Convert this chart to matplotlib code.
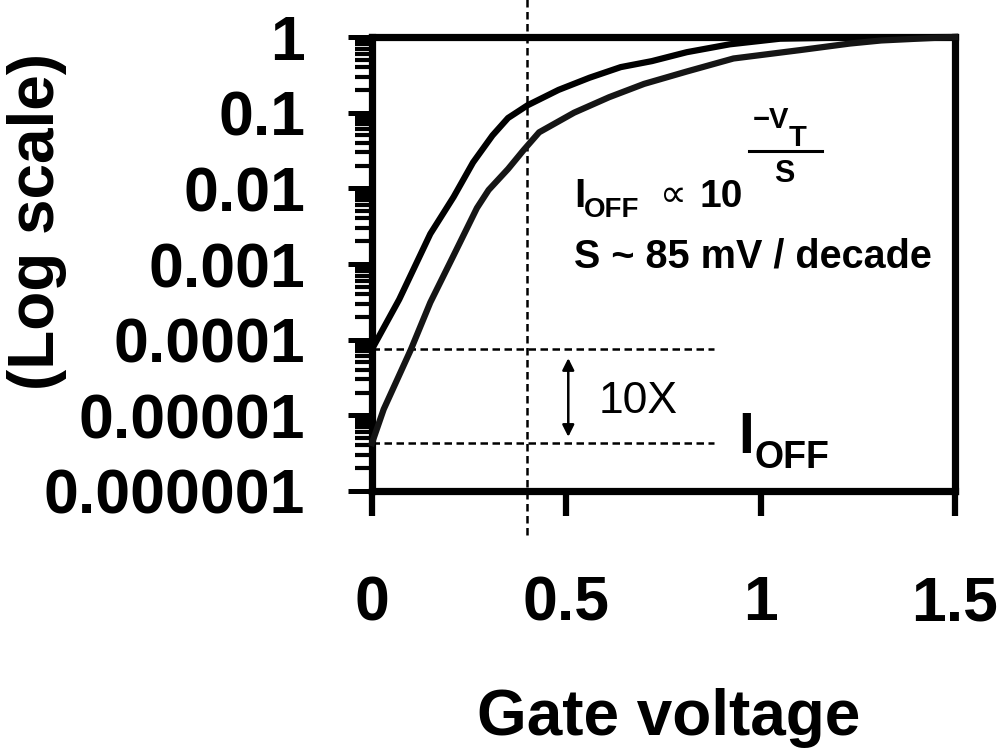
import matplotlib
matplotlib.use("Agg")
import matplotlib.pyplot as plt
from matplotlib.ticker import FixedLocator, LogLocator, NullFormatter

# ---------------- data ----------------
v_upper = [0.0, 0.07, 0.15, 0.21, 0.26, 0.31, 0.35, 0.40, 0.48, 0.56, 0.64, 0.72, 0.81, 0.92, 1.05, 1.2, 1.5]
i_upper = [7.5e-5, 3.4e-4, 2.5e-3, 7.7e-3, 0.022, 0.05, 0.085, 0.125, 0.2, 0.29, 0.40, 0.48, 0.63, 0.8, 0.95, 0.98, 1.0]

v_lower = [0.0, 0.03, 0.10, 0.15, 0.21, 0.27, 0.30, 0.35, 0.39, 0.43, 0.52, 0.61, 0.70, 0.81, 0.93, 1.10, 1.23, 1.31, 1.44, 1.5]
i_lower = [4.3e-6, 1.2e-5, 7.4e-5, 3.1e-4, 1.3e-3, 5.5e-3, 9.5e-3, 0.018, 0.032, 0.055, 0.10, 0.16, 0.24, 0.35, 0.52, 0.67, 0.82, 0.9, 0.97, 1.0]

ioff_high = 7.5e-5
ioff_low = 4.3e-6
v_threshold = 0.4
hline_end = 0.88
arrow_v = 0.505
arrow_top = 5.7e-5
arrow_bottom = 5.2e-6

x_ticks = [0, 0.5, 1, 1.5]
x_tick_labels = ["0", "0.5", "1", "1.5"]
y_ticks = [1e-6, 1e-5, 1e-4, 1e-3, 1e-2, 1e-1, 1]
y_tick_labels = ["0.000001", "0.00001", "0.0001", "0.001", "0.01", "0.1", "1"]

# ---------------- figure ----------------
plt.rcParams['font.family'] = ['Liberation Sans', 'DejaVu Sans']
fig = plt.figure(figsize=(10, 7.48), dpi=100)
W, H = 1000, 748
ax = fig.add_axes([372 / W, 1 - 491 / H, (955 - 372) / W, (491 - 37) / H])

ax.set_yscale('log')
ax.set_xlim(0, 1.5)
ax.set_ylim(1e-6, 1)

ax.plot(v_upper, i_upper, color='black', lw=4.5, clip_on=False, zorder=5)
ax.plot(v_lower, i_lower, color='#151515', lw=4.5, clip_on=False, zorder=5)

dash = (3.0, 1.8)
ax.plot([0, hline_end], [ioff_high, ioff_high], color='black', lw=1.8, dashes=dash, zorder=3)
ax.plot([0, hline_end], [ioff_low, ioff_low], color='black', lw=1.8, dashes=dash, zorder=3)
ax.axvline(v_threshold, ymin=-0.097, ymax=1.085, color='black', lw=1.8, dashes=dash,
           clip_on=False, zorder=3)

ax.annotate('', xy=(arrow_v, arrow_bottom), xytext=(arrow_v, arrow_top),
            arrowprops=dict(arrowstyle='<|-|>,head_length=0.7,head_width=0.35', color='black', lw=1.8,
                            shrinkA=0, shrinkB=0))

for s in ax.spines.values():
    s.set_linewidth(5.2)
    s.set_zorder(4)

ax.xaxis.set_major_locator(FixedLocator(x_ticks))
ax.set_xticklabels(x_tick_labels)
ax.yaxis.set_major_locator(FixedLocator(y_ticks))
ax.set_yticklabels(y_tick_labels)
ax.yaxis.set_minor_locator(LogLocator(base=10, subs=[2, 3, 4, 5, 6, 7, 8, 9], numticks=20))
ax.yaxis.set_minor_formatter(NullFormatter())

ax.tick_params(axis='x', which='major', direction='out', length=18, width=4.5, pad=42,
               labelsize=45, top=False)
ax.tick_params(axis='y', which='major', direction='out', length=17, width=3.6, pad=31,
               labelsize=45, right=False)
ax.tick_params(axis='y', which='minor', direction='out', length=12, width=3.0, right=False)
for lab in ax.get_xticklabels() + ax.get_yticklabels():
    lab.set_fontweight('bold')

def fx(x):
    return x / W

def fy(y):
    return 1 - y / H

# axis labels
fig.text(fx(669), fy(735), 'Gate voltage', ha='center', va='baseline', fontsize=46, fontweight='bold')
fig.text(fx(37), fy(222), '(Log scale)', ha='center', va='center', rotation=90, fontsize=46, fontweight='bold')

# formula
fig.text(fx(574), fy(207), 'I', ha='left', va='baseline', fontsize=29, fontweight='bold')
fig.text(fx(584), fy(217), 'OFF', ha='left', va='baseline', fontsize=20, fontweight='bold')
fig.text(fx(673), fy(196), '\u221d', ha='center', va='center', fontsize=27, family=['DejaVu Sans'])
fig.text(fx(700), fy(207), '10', ha='left', va='baseline', fontsize=28, fontweight='bold')
fig.text(fx(753), fy(128), '\u2212V', ha='left', va='baseline', fontsize=21, fontweight='bold')
fig.text(fx(789), fy(146), 'T', ha='left', va='baseline', fontsize=21, fontweight='bold')
fig.add_artist(plt.Line2D([fx(749), fx(822)], [fy(151), fy(151)], color='black', lw=2.2))
fig.text(fx(784), fy(182), 'S', ha='center', va='baseline', fontsize=22, fontweight='bold')
fig.text(fx(574), fy(268), 'S ~ 85 mV / decade', ha='left', va='baseline', fontsize=28.5, fontweight='bold')

# annotations near the dashed lines
fig.text(fx(599), fy(413), '10X', ha='left', va='baseline', fontsize=32)
fig.text(fx(738), fy(453), 'I', ha='left', va='baseline', fontsize=41, fontweight='bold')
fig.text(fx(754), fy(468), 'OFF', ha='left', va='baseline', fontsize=27, fontweight='bold')

fig.savefig('out.png', dpi=100)
